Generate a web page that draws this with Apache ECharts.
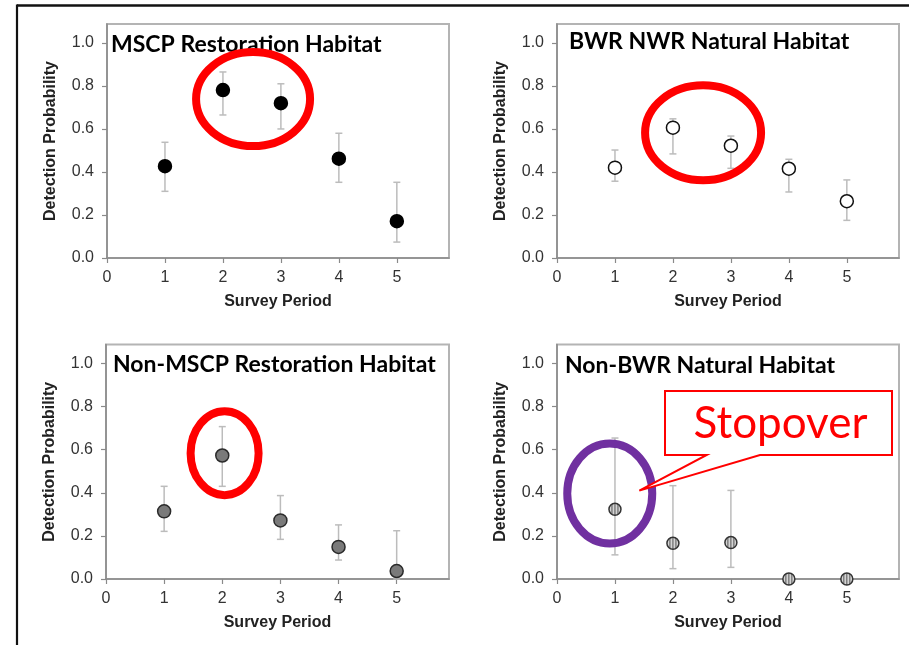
<!DOCTYPE html>
<html><head><meta charset="utf-8">
<script src="https://cdn.jsdelivr.net/npm/echarts@6/dist/echarts.min.js"></script>
<style>html,body{margin:0;padding:0;background:#fff}#c{width:909px;height:645px}</style>
</head><body><div id="c"></div>
<script>
// ---- data ----
const periods = [1, 2, 3, 4, 5];
const panelTitles = ['MSCP Restoration Habitat', 'BWR NWR Natural Habitat', 'Non-MSCP Restoration Habitat', 'Non-BWR Natural Habitat'];
const mscpRestoration     = [0.427, 0.781, 0.720, 0.462, 0.171];
const mscpRestorationLow  = [0.310, 0.665, 0.600, 0.352, 0.074];
const mscpRestorationHigh = [0.538, 0.865, 0.810, 0.580, 0.352];
const bwrNatural     = [0.420, 0.606, 0.522, 0.415, 0.264];
const bwrNaturalLow  = [0.357, 0.484, 0.417, 0.307, 0.175];
const bwrNaturalHigh = [0.502, 0.647, 0.567, 0.459, 0.363];
const nonMscpRestoration     = [0.314, 0.573, 0.272, 0.149, 0.037];
const nonMscpRestorationLow  = [0.221, 0.430, 0.184, 0.088, 0.000];
const nonMscpRestorationHigh = [0.430, 0.707, 0.387, 0.251, 0.224];
const nonBwrNatural     = [0.324, 0.166, 0.169, 0.000, 0.000];
const nonBwrNaturalLow  = [0.112, 0.048, 0.054, 0.000, 0.000];
const nonBwrNaturalHigh = [0.654, 0.433, 0.411, 0.000, 0.000];
const xTickValues = [0, 1, 2, 3, 4, 5];
const yTickValues = [0, 0.2, 0.4, 0.6, 0.8, 1.0];
const xAxisName = 'Survey Period';
const yAxisName = 'Detection Probability';
const calloutText = 'Stopover';

// ---- styling ----
const panels = [
  {vals: mscpRestoration, lo: mscpRestorationLow, hi: mscpRestorationHigh, fill: '#000', border: '#000', hatched: false},
  {vals: bwrNatural, lo: bwrNaturalLow, hi: bwrNaturalHigh, fill: '#fff', border: '#111', hatched: false},
  {vals: nonMscpRestoration, lo: nonMscpRestorationLow, hi: nonMscpRestorationHigh, fill: '#7a7a7a', border: '#2a2a2a', hatched: false},
  {vals: nonBwrNatural, lo: nonBwrNaturalLow, hi: nonBwrNaturalHigh, fill: '#d4d4d4', border: '#333', hatched: true}
];
const grids = [
  {left: 107, top: 24, width: 342, height: 234},
  {left: 557, top: 24, width: 342, height: 234},
  {left: 106, top: 344.5, width: 343, height: 234.5},
  {left: 557, top: 344.5, width: 342, height: 234.5}
];
const titlePos = [{left: 111, top: 33}, {left: 569, top: 30}, {left: 113, top: 353}, {left: 565, top: 354}];
const FONT = '"Liberation Sans", Arial, sans-serif';
const TFONT = 'Lato, "Noto Sans", sans-serif';
const axisColor = '#8a8a8a';

const option = {
  animation: false,
  backgroundColor: '#fff',
  title: panelTitles.map((t, i) => ({text: t, left: titlePos[i].left, top: titlePos[i].top, padding: 0,
    textStyle: {fontFamily: TFONT, fontWeight: 'bold', fontSize: 23, color: '#000'}})),
  grid: grids.map(g => Object.assign({show: true, borderColor: '#b4b4b4', borderWidth: 2, backgroundColor: 'transparent', containLabel: false}, g)),
  xAxis: grids.map((g, i) => ({
    type: 'value', gridIndex: i, min: 0, max: 5.9,
    axisLine: {show: true, onZero: false, lineStyle: {color: axisColor, width: 1.5}},
    axisTick: {show: true, customValues: xTickValues, length: 5, lineStyle: {color: axisColor, width: 1.2}},
    axisLabel: {customValues: xTickValues, fontSize: 16, color: '#333', margin: 12, fontFamily: FONT},
    splitLine: {show: false},
    name: xAxisName, nameLocation: 'middle', nameGap: 36,
    nameTextStyle: {fontWeight: 'bold', fontSize: 16, color: '#222', fontFamily: FONT}
  })),
  yAxis: grids.map((g, i) => ({
    type: 'value', gridIndex: i, min: 0, max: 1.088,
    axisLine: {show: true, onZero: false, lineStyle: {color: axisColor, width: 1.5}},
    axisTick: {show: true, customValues: yTickValues, length: 5, lineStyle: {color: axisColor, width: 1.2}},
    axisLabel: {customValues: yTickValues, fontSize: 16, color: '#333', margin: 13, fontFamily: FONT,
      formatter: v => v.toFixed(1)},
    splitLine: {show: false},
    name: yAxisName, nameLocation: 'middle', nameGap: 48,
    nameTextStyle: {fontWeight: 'bold', fontSize: 16, color: '#222', fontFamily: FONT}
  })),
  series: []
};

const R = 6.5;
panels.forEach((p, i) => {
  option.series.push({
    type: 'custom', xAxisIndex: i, yAxisIndex: i, silent: true, clip: false, z: 2,
    data: periods.map((x, k) => [x, p.lo[k], p.hi[k]]),
    renderItem(params, api) {
      const x = api.value(0);
      const lo = api.coord([x, api.value(1)]);
      const hi = api.coord([x, api.value(2)]);
      const cw = 3.5;
      const st = {stroke: '#bcbcbc', lineWidth: 1.5};
      return {type: 'group', children: [
        {type: 'line', shape: {x1: lo[0], y1: lo[1], x2: hi[0], y2: hi[1]}, style: st},
        {type: 'line', shape: {x1: hi[0] - cw, y1: hi[1], x2: hi[0] + cw, y2: hi[1]}, style: st},
        {type: 'line', shape: {x1: lo[0] - cw, y1: lo[1], x2: lo[0] + cw, y2: lo[1]}, style: st}
      ]};
    }
  });
  if (!p.hatched) {
    option.series.push({
      type: 'scatter', xAxisIndex: i, yAxisIndex: i, z: 3, clip: false,
      symbol: 'circle', symbolSize: 2 * R,
      itemStyle: {color: p.fill, borderColor: p.border, borderWidth: 1.5, opacity: 1},
      data: periods.map((x, k) => [x, p.vals[k]])
    });
  } else {
    option.series.push({
      type: 'custom', xAxisIndex: i, yAxisIndex: i, z: 3, clip: false,
      data: periods.map((x, k) => [x, p.vals[k]]),
      renderItem(params, api) {
        const c = api.coord([api.value(0), api.value(1)]);
        const r = R - 0.5;
        const kids = [{type: 'circle', shape: {cx: c[0], cy: c[1], r: r}, style: {fill: p.fill, stroke: null}}];
        [-3, 0, 3].forEach(dx => {
          const h = Math.sqrt(Math.max(0, r * r - dx * dx));
          kids.push({type: 'line', shape: {x1: c[0] + dx, y1: c[1] - h, x2: c[0] + dx, y2: c[1] + h}, style: {stroke: '#555', lineWidth: 1}});
        });
        kids.push({type: 'circle', shape: {cx: c[0], cy: c[1], r: r}, style: {fill: null, stroke: p.border, lineWidth: 1.5}});
        return {type: 'group', children: kids};
      }
    });
  }
});

const chart = echarts.init(document.getElementById('c'), null, {renderer: 'canvas'});
chart.setOption(option);

// ---- annotations anchored in data coordinates ----
function px(i, pt) { return chart.convertToPixel({gridIndex: i}, pt); }
const ellipses = [
  {i: 0, c: [2.52, 0.739], rx: 57, ry: 47, color: '#ff0000'},
  {i: 1, c: [2.52, 0.582], rx: 58, ry: 47.5, color: '#ff0000'},
  {i: 2, c: [2.04, 0.584], rx: 34, ry: 42, color: '#ff0000'},
  {i: 3, c: [0.91, 0.397], rx: 42.5, ry: 50, color: '#7030a0'}
];
const graphics = [
  {type: 'line', shape: {x1: 17, y1: 5.5, x2: 909, y2: 5.5}, style: {stroke: '#111', lineWidth: 2.5}, z: 20},
  {type: 'line', shape: {x1: 17, y1: 4.5, x2: 17, y2: 645}, style: {stroke: '#111', lineWidth: 2.2}, z: 20}
];
ellipses.forEach(e => {
  const c = px(e.i, e.c);
  graphics.push({type: 'ellipse', shape: {cx: c[0], cy: c[1], rx: e.rx, ry: e.ry},
    style: {fill: null, stroke: e.color, lineWidth: 8}, z: 10});
});
// callout box with pointer toward the period-1 point
const tip = px(3, [1.42, 0.41]);
const bx0 = 665, bx1 = 892, by0 = 391, by1 = 455;
graphics.push({type: 'polygon', z: 11,
  shape: {points: [[bx0, by0], [bx1, by0], [bx1, by1], [760, by1], tip, [706.7, by1], [bx0, by1]]},
  style: {fill: '#fff', stroke: '#ff0000', lineWidth: 2}});
graphics.push({type: 'text', z: 12, x: (bx0 + bx1) / 2 + 2, y: 424,
  style: {text: calloutText, fill: '#ff0000', font: '44px Lato, "Noto Sans", sans-serif', align: 'center', verticalAlign: 'middle'}});
chart.setOption({graphic: graphics});
</script>
</body></html>
